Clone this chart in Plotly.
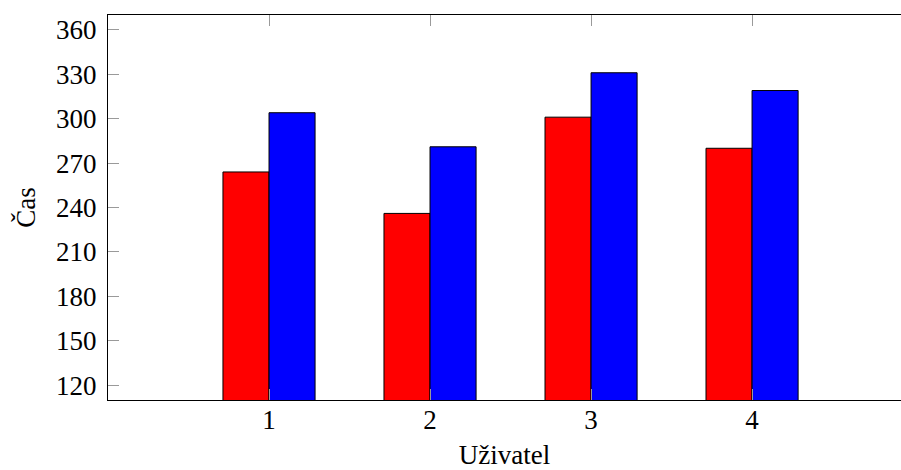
import plotly.graph_objects as go

users = [1, 2, 3, 4]
red_values = [264, 236, 301, 280]
blue_values = [304, 281, 331, 319]
y_ticks = [120, 150, 180, 210, 240, 270, 300, 330, 360]

FONT = "Liberation Serif"
FS = 27

fig = go.Figure()
fig.add_trace(go.Bar(x=users, y=red_values, marker=dict(color="#ff0000", line=dict(color="black", width=1)), showlegend=False))
fig.add_trace(go.Bar(x=users, y=blue_values, marker=dict(color="#0000ff", line=dict(color="black", width=1)), showlegend=False))

fig.update_layout(
    width=901, height=470,
    margin=dict(l=108, r=0, t=15, b=70),
    paper_bgcolor="white", plot_bgcolor="white",
    barmode="group", bargap=0.428, bargroupgap=0,
    font=dict(family=FONT, size=FS, color="black"),
)
fig.update_xaxes(
    range=[0, 4.925], tickvals=users, ticktext=[str(u) for u in users],
    showline=True, linecolor="black", linewidth=1, mirror="allticks",
    ticks="inside", ticklen=11, tickcolor="#9a9a9a", tickwidth=1,
    ticklabelstandoff=-4,
    showgrid=False, zeroline=False,
    title=dict(text="Uživatel", standoff=14, font=dict(size=FS)),
)
fig.update_yaxes(
    range=[110, 370], tickvals=y_ticks,
    showline=True, linecolor="black", linewidth=1, mirror=False,
    ticks="inside", ticklen=11, tickcolor="#9a9a9a", tickwidth=1,
    ticklabelstandoff=5,
    showgrid=False, zeroline=False,
    title=dict(text="Čas", standoff=12, font=dict(size=FS)),
)
fig.write_html("out.html")
